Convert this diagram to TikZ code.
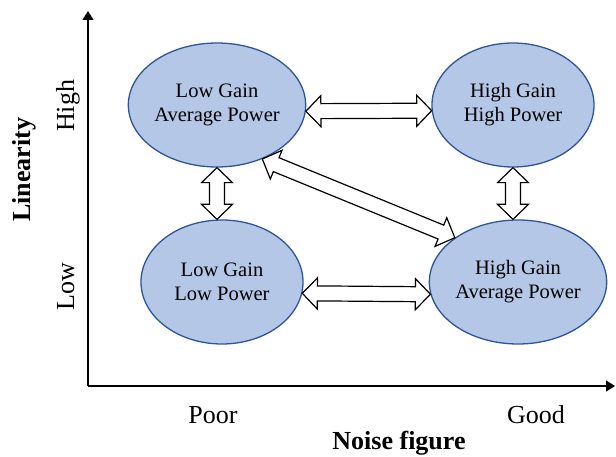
\documentclass[tikz,border=0pt]{standalone}
\usepackage{fontspec}
\setmainfont{Liberation Serif}
\usepackage{tikz}
\usetikzlibrary{shapes.geometric, arrows.meta, positioning, calc}
\usepackage{xcolor}
\definecolor{ellfill}{HTML}{B4C7E7}
\definecolor{elldraw}{HTML}{2F5597}

\begin{document}
\begin{tikzpicture}[
    x=1pt, y=1pt,
    state/.style={ellipse, draw=elldraw, fill=ellfill, line width=1.3pt, minimum width=162pt, minimum height=124pt, inner sep=0pt, align=center, font=\fontsize{20.5}{24}\selectfont},
    axis/.style={line width=1.5pt, -{Triangle[length=9pt, width=11pt]}},
    lbl/.style={font=\fontsize{26}{30}\selectfont, anchor=base},
    title/.style={font=\fontsize{26}{30}\selectfont\bfseries, anchor=base},
    blockarrow/.style={draw, fill=white, line width=1.2pt, line join=miter,
        to path={-- ($(\tikztostart)!15pt!(\tikztotarget)!15.5pt!90:(\tikztotarget)$)
            -- ($(\tikztostart)!15pt!(\tikztotarget)!7.5pt!90:(\tikztotarget)$)
            -- ($(\tikztotarget)!15pt!(\tikztostart)!7.5pt!-90:(\tikztostart)$)
            -- ($(\tikztotarget)!15pt!(\tikztostart)!15.5pt!-90:(\tikztostart)$)
            -- (\tikztotarget)
            -- ($(\tikztotarget)!15pt!(\tikztostart)!15.5pt!90:(\tikztostart)$)
            -- ($(\tikztotarget)!15pt!(\tikztostart)!7.5pt!90:(\tikztostart)$)
            -- ($(\tikztostart)!15pt!(\tikztotarget)!7.5pt!-90:(\tikztotarget)$)
            -- ($(\tikztostart)!15pt!(\tikztotarget)!15.5pt!-90:(\tikztotarget)$)
            -- cycle}}
]
    \useasboundingbox (0,0) rectangle (616,456);

    \coordinate (o) at (88,70);
    \coordinate (ytip) at (88,445);
    \coordinate (xtip) at (615,70);
    \draw[axis] (o) -- (ytip);
    \draw[axis] (o) -- (xtip);

    \node[state] (tl) at (217,351) {Low Gain\\Average Power};
    \node[state] (tr) at (513,351) {High Gain\\High Power};
    \node[state] (bl) at (222,174) {Low Gain\\Low Power};
    \node[state] (br) at (518,174) {High Gain\\Average Power};

    \coordinate (lv) at (tl.south |- bl.north);
    \coordinate (rv) at (tr.south |- br.north);
    \draw[blockarrow] (tl.-4) to (tr.184);
    \draw[blockarrow] (bl.-8) to (br.188);
    \draw[blockarrow] (tl.south) to (lv);
    \draw[blockarrow] (tr.south) to (rv);
    \draw[blockarrow] (tl.-50) to (br.145);

    \node[lbl, rotate=90] (high) at (74,350) {High};
    \node[lbl, rotate=90] (low) at (74,169) {Low};
    \node[lbl] (poor) at (213,33) {Poor};
    \node[lbl] (good) at (536,33) {Good};
    \node[title, rotate=90] (yname) at (31,286) {Linearity};
    \node[title] (xname) at (399,7) {Noise figure};
\end{tikzpicture}
\end{document}
